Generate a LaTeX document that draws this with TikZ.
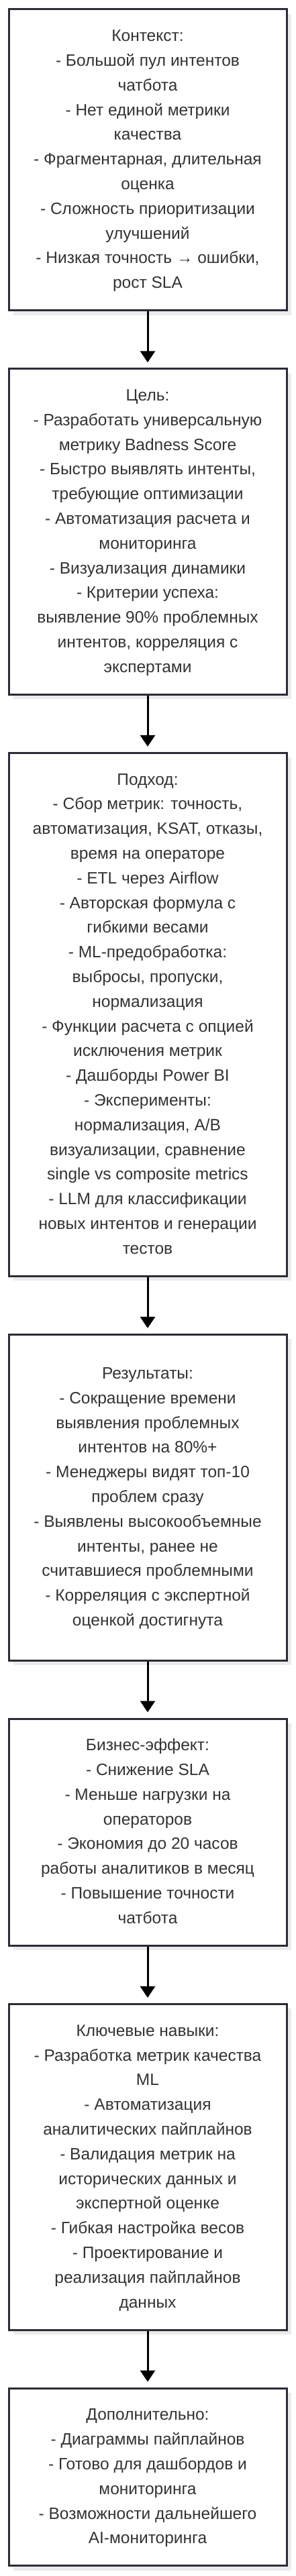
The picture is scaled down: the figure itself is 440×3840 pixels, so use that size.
\documentclass[tikz,border=0pt]{standalone}
\usepackage{fontspec}
\setmainfont{Liberation Sans}
\usetikzlibrary{arrows.meta,shadows}
\definecolor{boxline}{HTML}{2C2C38}
\definecolor{boxtext}{HTML}{333333}
\definecolor{shade}{HTML}{EBEBEB}
\tikzset{
  card/.style={draw=boxline, line width=3pt, fill=white, minimum width=414pt,
    inner sep=0pt, align=center, text=boxtext,
    font=\fontsize{24.5}{36.8}\selectfont,
    drop shadow={shadow xshift=7pt, shadow yshift=-7pt, fill=shade, opacity=1}},
  flow/.style={draw=black, line width=3pt, -{Triangle[width=22pt,length=17pt]}}
}
\begin{document}
\begin{tikzpicture}[x=1pt,y=1pt]
\useasboundingbox (0,0) rectangle (440,-3840);
\node[card, minimum height=448.8pt] (b1) at (220,-238.4) {\strut Контекст:\\
- Большой пул интентов\\
чатбота\\
- Нет единой метрики\\
качества\\
- Фрагментарная, длительная\\
оценка\\
- Сложность приоритизации\\
улучшений\\
- Низкая точность → ошибки,\\
рост SLA\strut};
\node[card, minimum height=485.6pt] (b2) at (220,-792.6) {\strut Цель:\\
- Разработать универсальную\\
метрику Badness Score\\
- Быстро выявлять интенты,\\
требующие оптимизации\\
- Автоматизация расчета и\\
мониторинга\\
- Визуализация динамики\\
- Критерии успеха:\\
выявление 90\% проблемных\\
интентов, корреляция с\\
экспертами\strut};
\node[card, minimum height=780pt] (b3) at (220,-1512.4) {\strut Подход:\\
- Сбор метрик: точность,\\
автоматизация, KSAT, отказы,\\
время на операторе\\
- ETL через Airflow\\
- Авторская формула с\\
гибкими весами\\
- ML-предобработка:\\
выбросы, пропуски,\\
нормализация\\
- Функции расчета с опцией\\
исключения метрик\\
- Дашборды Power BI\\
- Эксперименты:\\
нормализация, A/B\\
визуализации, сравнение\\
single vs composite metrics\\
- LLM для классификации\\
новых интентов и генерации\\
тестов\strut};
\node[card, minimum height=485.6pt] (b4) at (220,-2232.2) {\strut Результаты:\\
- Сокращение времени\\
выявления проблемных\\
интентов на 80\%+\\
- Менеджеры видят топ-10\\
проблем сразу\\
- Выявлены высокообъемные\\
интенты, ранее не\\
считавшиеся проблемными\\
- Корреляция с экспертной\\
оценкой достигнута\strut};
\node[card, minimum height=338.4pt] (b5) at (220,-2731.2) {\strut Бизнес-эффект:\\
- Снижение SLA\\
- Меньше нагрузки на\\
операторов\\
- Экономия до 20 часов\\
работы аналитиков в месяц\\
- Повышение точности\\
чатбота\strut};
\node[card, minimum height=485.6pt] (b6) at (220,-3230.2) {\strut Ключевые навыки:\\
- Разработка метрик качества\\
ML\\
- Автоматизация\\
аналитических пайплайнов\\
- Валидация метрик на\\
исторических данных и\\
экспертной оценке\\
- Гибкая настройка весов\\
- Проектирование и\\
реализация пайплайнов\\
данных\strut};
\node[card, minimum height=264.8pt] (b7) at (220,-3692.4) {\strut Дополнительно:\\
- Диаграммы пайплайнов\\
- Готово для дашбордов и\\
мониторинга\\
- Возможности дальнейшего\\
AI-мониторинга\strut};
\draw[flow] (b1.south) -- ([yshift=8pt]b2.north);
\draw[flow] (b2.south) -- ([yshift=8pt]b3.north);
\draw[flow] (b3.south) -- ([yshift=8pt]b4.north);
\draw[flow] (b4.south) -- ([yshift=8pt]b5.north);
\draw[flow] (b5.south) -- ([yshift=8pt]b6.north);
\draw[flow] (b6.south) -- ([yshift=8pt]b7.north);
\end{tikzpicture}
\end{document}
